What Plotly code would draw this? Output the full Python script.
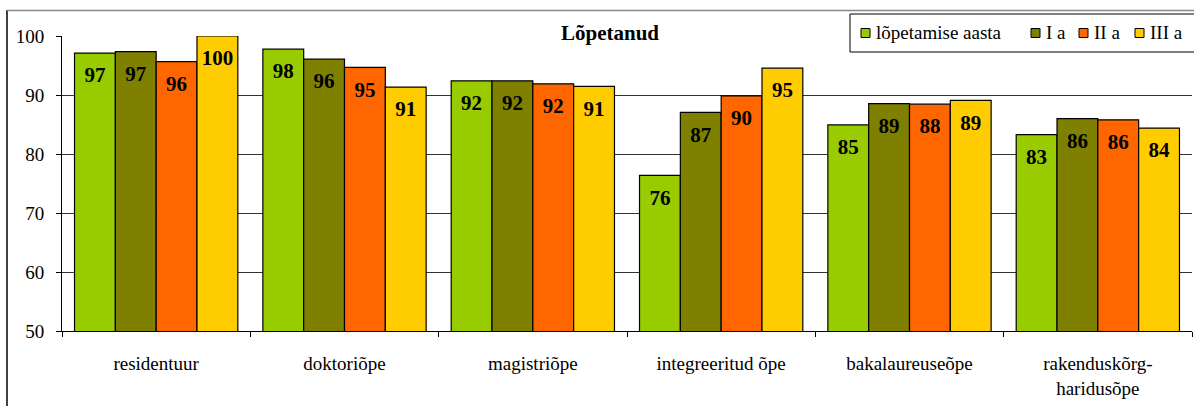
import plotly.graph_objects as go

categories = ["residentuur", "doktoriõpe", "magistriõpe", "integreeritud õpe",
              "bakalaureuseõpe", "rakenduskõrg-<br>haridusõpe"]
series_names = ["lõpetamise aasta", "I a", "II a", "III a"]
lopetamise_aasta = [97.1, 97.77, 92.4, 76.37, 84.93, 83.3]
i_a = [97.35, 96.08, 92.4, 87.05, 88.55, 86.0]
ii_a = [95.66, 94.68, 91.9, 89.86, 88.45, 85.8]
iii_a = [100.0, 91.35, 91.45, 94.55, 89.1, 84.4]
y_ticks = [50, 60, 70, 80, 90, 100]
title_text = "Lõpetanud"

series_values = [lopetamise_aasta, i_a, ii_a, iii_a]
colors = ["#99CC00", "#808000", "#FF6600", "#FFCC00"]

W, H = 1194, 406
L, R, T, B = 62, 2, 36, 75
PW, PH = W - L - R, H - T - B
FONT = "Liberation Serif"


def px(x):
    return (x - L) / PW


def py(y):
    return (H - B - y) / PH


fig = go.Figure()
for name, vals, col in zip(series_names, series_values, colors):
    fig.add_trace(go.Bar(
        x=categories, y=vals, name=name, marker_color=col,
        marker_line_color="black", marker_line_width=1.2,
        offsetgroup=name, alignmentgroup="g", showlegend=False))
for name, vals in zip(series_names, series_values):
    fig.add_trace(go.Scatter(
        x=categories, y=vals, mode="markers+text", offsetgroup=name,
        alignmentgroup="g", orientation="v",
        marker=dict(size=20, color="rgba(0,0,0,0)"),
        text=[f"{v:.0f}" for v in vals], textposition="bottom center",
        textfont=dict(family=FONT, size=21, color="black", weight="bold"),
        showlegend=False, hoverinfo="skip"))

shapes = []
ann = []
# outer frame
shapes.append(dict(type="line", xref="paper", yref="paper", x0=px(7), x1=px(7),
                   y0=py(10), y1=py(420), line=dict(color="black", width=1.5)))
shapes.append(dict(type="line", xref="paper", yref="paper", x0=px(7), x1=px(1200),
                   y0=py(10.5), y1=py(10.5), line=dict(color="#888888", width=1.5)))
# title
ann.append(dict(text="<b>" + title_text + "</b>", xref="paper", yref="paper",
                x=px(610), y=py(33), showarrow=False, bgcolor="white",
                font=dict(family=FONT, size=21, color="black"),
                xanchor="center", yanchor="middle", borderpad=1))
# legend
shapes.append(dict(type="rect", xref="paper", yref="paper", x0=px(850), x1=px(1210),
                   y0=py(14), y1=py(52), fillcolor="white",
                   line=dict(color="black", width=1)))
text_starts = [876, 1046, 1094, 1150]
for name, col, tx in zip(series_names, colors, text_starts):
    shapes.append(dict(type="rect", xref="paper", yref="paper", x0=px(tx - 15), x1=px(tx - 6),
                       y0=py(37.5), y1=py(28.5), fillcolor=col,
                       line=dict(color="black", width=1)))
    ann.append(dict(text=name, xref="paper", yref="paper", x=px(tx - 2), y=py(33),
                    showarrow=False, xanchor="left", yanchor="middle",
                    font=dict(family=FONT, size=19, color="black")))

fig.update_layout(
    width=W, height=H, margin=dict(l=L, r=R, t=T, b=B, autoexpand=False),
    paper_bgcolor="white", plot_bgcolor="white",
    barmode="group", bargap=0.133, bargroupgap=0,
    scattermode="group", scattergap=0.133,
    font=dict(family=FONT, size=19, color="black"),
    shapes=shapes, annotations=ann, showlegend=False, hovermode=False,
    xaxis=dict(type="category", tickson="boundaries", ticks="outside", ticklen=5,
               tickcolor="black", showline=True, linecolor="black", linewidth=1,
               showgrid=False, tickfont=dict(family=FONT, size=19, color="black"),
               ticklabelstandoff=15),
    yaxis=dict(range=[50, 100], tickvals=y_ticks, ticks="outside", ticklen=5,
               tickcolor="black", showline=True, linecolor="black", linewidth=1,
               showgrid=True, gridcolor="#333333", gridwidth=1, zeroline=False,
               tickfont=dict(family=FONT, size=19, color="black"),
               ticklabelstandoff=8),
)
fig.write_html("out.html", config={"displayModeBar": False, "staticPlot": True})

with open("out.html", "r", encoding="utf-8") as f:
    html = f.read()
html = html.replace("<head>", "<head><style>html,body{margin:0;padding:0;overflow:hidden;}</style>", 1)
with open("out.html", "w", encoding="utf-8") as f:
    f.write(html)
